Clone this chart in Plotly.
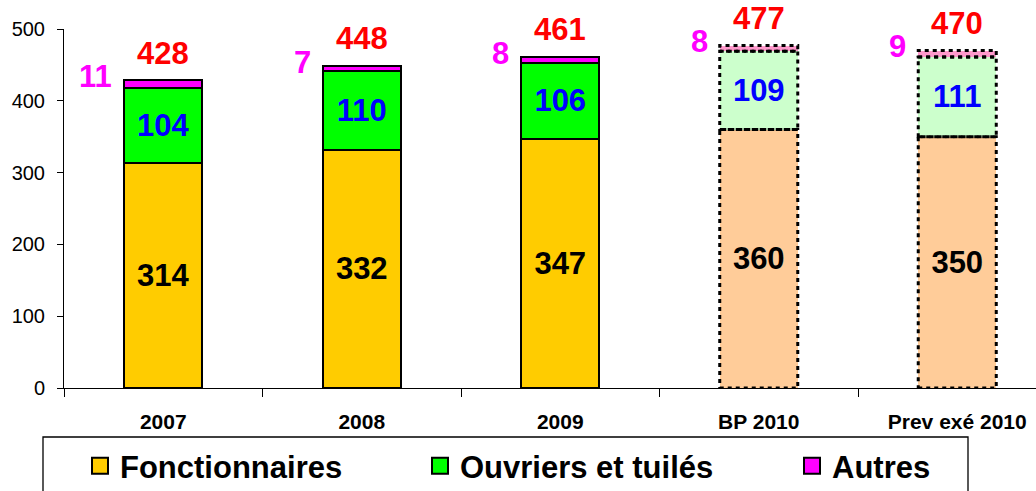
import plotly.graph_objects as go

categories = ["2007", "2008", "2009", "BP 2010", "Prev exé 2010"]
fonctionnaires = [314, 332, 347, 360, 350]
ouvriers = [104, 110, 106, 109, 111]
autres = [11, 7, 8, 8, 9]
totals = [428, 448, 461, 477, 470]
projected = [False, False, False, True, True]
y_ticks = [0, 100, 200, 300, 400, 500]

FONT = "Arial, Liberation Sans, sans-serif"
W = 1036
H = 491
L_MARGIN = 64
T_MARGIN = 29
B_MARGIN = 103
plot_w = W - L_MARGIN
plot_h = H - T_MARGIN - B_MARGIN
slot_px = 198.5
BAR_W = 0.393
LABEL_SIZE = 31

strong = {"f": "#FFCC00", "o": "#00FF00", "a": "#FF00FF"}
pale = {"f": "#FFCC99", "o": "#CCFFCC", "a": "#FF99CC"}


def colors(key):
    return [pale[key] if p else strong[key] for p in projected]


line_w = [0 if p else 2 for p in projected]

# page pixel -> paper coordinates
px_to_xpaper = lambda px: (px - L_MARGIN) / plot_w
py_to_ypaper = lambda py: (H - B_MARGIN - py) / plot_h

fig = go.Figure()
fig.add_trace(go.Bar(
    x=categories, y=fonctionnaires, width=BAR_W, name="Fonctionnaires",
    marker=dict(color=colors("f"), line=dict(color="black", width=line_w)),
    text=[str(v) for v in fonctionnaires], textposition="inside",
    insidetextanchor="middle", constraintext="none",
    textfont=dict(family=FONT, size=LABEL_SIZE, color="black", weight="bold"),
    showlegend=False, legendgroup="f",
))
fig.add_trace(go.Bar(
    x=categories, y=ouvriers, width=BAR_W, name="Ouvriers et tuilés",
    marker=dict(color=colors("o"), line=dict(color="black", width=line_w)),
    text=[str(v) for v in ouvriers], textposition="inside",
    insidetextanchor="middle", constraintext="none",
    textfont=dict(family=FONT, size=LABEL_SIZE, color="#0000FF", weight="bold"),
    showlegend=False, legendgroup="o",
))
fig.add_trace(go.Bar(
    x=categories, y=autres, width=BAR_W, name="Autres",
    marker=dict(color=colors("a"), line=dict(color="black", width=line_w)),
    textposition="none",
    showlegend=False, legendgroup="a",
))

# legend entries, one legend per entry so each sits where the reference has it
legend_items = [("Fonctionnaires", "f", "legend", 80),
                ("Ouvriers et tuilés", "o", "legend2", 420),
                ("Autres", "a", "legend3", 792)]
legend_layouts = {}
for name, key, lg, xpx in legend_items:
    fig.add_trace(go.Scatter(
        x=[None], y=[None], mode="markers", name=name, legendgroup=key,
        legend=lg, showlegend=True,
        marker=dict(symbol="square", size=16, color=strong[key],
                    line=dict(color="black", width=2)),
    ))
    legend_layouts[lg] = dict(
        orientation="h", x=px_to_xpaper(xpx), xanchor="left",
        y=py_to_ypaper(439), yanchor="top",
        bgcolor="rgba(0,0,0,0)", borderwidth=0,
        font=dict(family=FONT, size=31, color="black", weight="bold"))

# dashed outlines for projected columns (computed from the data)
shapes = []
for i, p in enumerate(projected):
    if not p:
        continue
    bottoms = [0, fonctionnaires[i], fonctionnaires[i] + ouvriers[i]]
    tops = [fonctionnaires[i], fonctionnaires[i] + ouvriers[i],
            fonctionnaires[i] + ouvriers[i] + autres[i]]
    for b, t in zip(bottoms, tops):
        shapes.append(dict(type="rect", xref="x", yref="y",
                           x0=i - BAR_W / 2, x1=i + BAR_W / 2, y0=b, y1=t,
                           line=dict(color="black", width=3, dash="4px,4px"),
                           fillcolor="rgba(0,0,0,0)", layer="above"))

# legend frame
shapes.append(dict(type="rect", xref="paper", yref="paper",
                   x0=px_to_xpaper(43), x1=px_to_xpaper(968),
                   y0=py_to_ypaper(437), y1=py_to_ypaper(520),
                   line=dict(color="black", width=1.3),
                   fillcolor="rgba(0,0,0,0)"))

annotations = []
for i, (t, a) in enumerate(zip(totals, autres)):
    annotations.append(dict(x=i, y=t, xref="x", yref="y", text=str(t),
                            showarrow=False, yanchor="bottom", yshift=8,
                            font=dict(family=FONT, size=LABEL_SIZE, color="#FF0000", weight="bold")))
    annotations.append(dict(x=i - BAR_W / 2, y=t, xref="x", yref="y", text=str(a),
                            showarrow=False, xanchor="right", yanchor="middle",
                            xshift=-10, yshift=4,
                            font=dict(family=FONT, size=LABEL_SIZE, color="#FF00FF", weight="bold")))

fig.update_layout(
    width=W, height=H,
    margin=dict(l=L_MARGIN, r=0, t=T_MARGIN, b=B_MARGIN, autoexpand=False),
    barmode="stack",
    plot_bgcolor="white", paper_bgcolor="white",
    font=dict(family=FONT, color="black"),
    shapes=shapes,
    annotations=annotations,
    showlegend=True,
    xaxis=dict(type="category", range=[-0.5, -0.5 + plot_w / slot_px],
               showline=True, linecolor="black", linewidth=1,
               ticks="outside", tickson="boundaries", ticklen=8, tickcolor="black",
               showgrid=False, zeroline=False, ticklabelstandoff=15,
               tickfont=dict(family=FONT, size=21, color="black", weight="bold")),
    yaxis=dict(range=[0, 500], tickvals=y_ticks, showline=True, linecolor="black",
               linewidth=1, ticks="outside", ticklen=6, tickcolor="black",
               showgrid=False, zeroline=False, ticklabelstandoff=8,
               tickfont=dict(family=FONT, size=20, color="black")),
    **legend_layouts,
)

fig.write_html("out.html", config={"displayModeBar": False},
               post_script="document.body.style.margin='0';document.body.style.overflow='hidden';")
